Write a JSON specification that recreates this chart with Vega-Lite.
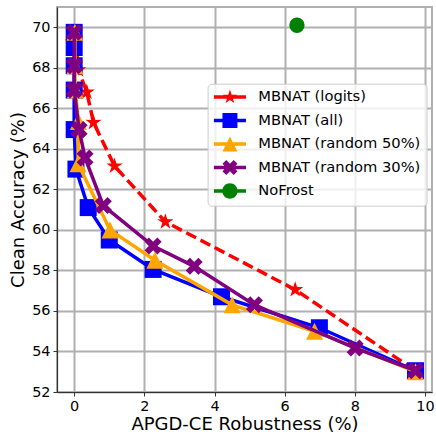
{
  "$schema": "https://vega.github.io/schema/vega-lite/v6.json",
  "width": 375,
  "height": 385,
  "autosize": {"type": "none"},
  "padding": {"left": 57, "top": 7, "right": 4, "bottom": 42},
  "background": "white",
  "config": {
    "font": "DejaVu Sans",
    "view": {"stroke": "#b0b0b0", "strokeWidth": 2},
    "axis": {
      "labelFont": "DejaVu Sans",
      "labelFontSize": 14.4,
      "labelColor": "#000000",
      "titleFont": "DejaVu Sans",
      "titleFontSize": 18,
      "titleFontWeight": "normal",
      "titleColor": "#000000",
      "tickColor": "#333333",
      "tickSize": 4,
      "tickWidth": 1,
      "labelPadding": 3,
      "domainColor": "#333333",
      "domainWidth": 1.2,
      "gridColor": "#b0b0b0",
      "gridWidth": 2,
      "gridOpacity": 1
    }
  },
  "data": {
    "values": [
      {"series": "MBNAT (logits)", "k": 0, "rob": 0.02, "acc": 69.75},
      {"series": "MBNAT (logits)", "k": 1, "rob": 0.12, "acc": 67.9},
      {"series": "MBNAT (logits)", "k": 2, "rob": 0.36, "acc": 66.8},
      {"series": "MBNAT (logits)", "k": 3, "rob": 0.55, "acc": 65.3},
      {"series": "MBNAT (logits)", "k": 4, "rob": 1.15, "acc": 63.15},
      {"series": "MBNAT (logits)", "k": 5, "rob": 2.6, "acc": 60.4},
      {"series": "MBNAT (logits)", "k": 6, "rob": 6.3, "acc": 57.05},
      {"series": "MBNAT (logits)", "k": 7, "rob": 9.73, "acc": 53.05},
      {"series": "MBNAT (all)", "k": 0, "rob": 0.0, "acc": 69.75},
      {"series": "MBNAT (all)", "k": 1, "rob": 0.0, "acc": 69.0},
      {"series": "MBNAT (all)", "k": 2, "rob": 0.0, "acc": 68.1},
      {"series": "MBNAT (all)", "k": 3, "rob": 0.0, "acc": 66.9},
      {"series": "MBNAT (all)", "k": 4, "rob": 0.0, "acc": 64.95},
      {"series": "MBNAT (all)", "k": 5, "rob": 0.05, "acc": 63.0},
      {"series": "MBNAT (all)", "k": 6, "rob": 0.4, "acc": 61.1},
      {"series": "MBNAT (all)", "k": 7, "rob": 1.0, "acc": 59.5},
      {"series": "MBNAT (all)", "k": 8, "rob": 2.25, "acc": 58.05},
      {"series": "MBNAT (all)", "k": 9, "rob": 4.2, "acc": 56.7},
      {"series": "MBNAT (all)", "k": 10, "rob": 6.99, "acc": 55.17},
      {"series": "MBNAT (all)", "k": 11, "rob": 9.73, "acc": 53.05},
      {"series": "MBNAT (random 50%)", "k": 0, "rob": 0.02, "acc": 69.75},
      {"series": "MBNAT (random 50%)", "k": 1, "rob": 0.02, "acc": 68.1},
      {"series": "MBNAT (random 50%)", "k": 2, "rob": 0.03, "acc": 66.9},
      {"series": "MBNAT (random 50%)", "k": 3, "rob": 0.12, "acc": 65.35},
      {"series": "MBNAT (random 50%)", "k": 4, "rob": 0.11, "acc": 63.27},
      {"series": "MBNAT (random 50%)", "k": 5, "rob": 1.02, "acc": 60.0},
      {"series": "MBNAT (random 50%)", "k": 6, "rob": 2.3, "acc": 58.5},
      {"series": "MBNAT (random 50%)", "k": 7, "rob": 4.5, "acc": 56.3},
      {"series": "MBNAT (random 50%)", "k": 8, "rob": 6.85, "acc": 55.0},
      {"series": "MBNAT (random 50%)", "k": 9, "rob": 9.73, "acc": 53.0},
      {"series": "MBNAT (random 30%)", "k": 0, "rob": 0.0, "acc": 69.75},
      {"series": "MBNAT (random 30%)", "k": 1, "rob": 0.0, "acc": 68.1},
      {"series": "MBNAT (random 30%)", "k": 2, "rob": 0.0, "acc": 66.9},
      {"series": "MBNAT (random 30%)", "k": 3, "rob": 0.14, "acc": 64.95},
      {"series": "MBNAT (random 30%)", "k": 4, "rob": 0.31, "acc": 63.55},
      {"series": "MBNAT (random 30%)", "k": 5, "rob": 0.83, "acc": 61.2},
      {"series": "MBNAT (random 30%)", "k": 6, "rob": 2.25, "acc": 59.2},
      {"series": "MBNAT (random 30%)", "k": 7, "rob": 3.42, "acc": 58.2},
      {"series": "MBNAT (random 30%)", "k": 8, "rob": 5.14, "acc": 56.3},
      {"series": "MBNAT (random 30%)", "k": 9, "rob": 8.01, "acc": 54.17},
      {"series": "MBNAT (random 30%)", "k": 10, "rob": 9.73, "acc": 53.05},
      {"series": "NoFrost", "k": 0, "rob": 6.35, "acc": 70.1}
    ]
  },
  "encoding": {
    "x": {
      "field": "rob", "type": "quantitative",
      "scale": {"domain": [-0.49, 10.2], "nice": false, "zero": false},
      "axis": {"values": [0, 2, 4, 6, 8, 10], "title": "APGD-CE Robustness (%)", "titlePadding": 3}
    },
    "y": {
      "field": "acc", "type": "quantitative",
      "scale": {"domain": [52, 71], "nice": false, "zero": false},
      "axis": {"values": [52, 54, 56, 58, 60, 62, 64, 66, 68, 70], "title": "Clean Accuracy (%)", "titlePadding": 4}
    },
    "order": {"field": "k", "type": "quantitative"}
  },
  "layer": [
    {"transform": [{"filter": "datum.series === 'MBNAT (logits)'"}],
     "mark": {"type": "line", "color": "#ff0000", "strokeWidth": 3.5, "strokeDash": [11, 5]}},
    {"transform": [{"filter": "datum.series === 'MBNAT (logits)'"}],
     "mark": {"type": "point", "filled": true, "opacity": 1, "color": "#ff0000", "size": 289, "strokeWidth": 0,
      "shape": "M0,-1L0.223,-0.307L0.951,-0.309L0.361,0.117L0.588,0.809L0,0.38L-0.588,0.809L-0.361,0.117L-0.951,-0.309L-0.223,-0.307Z"}},
    {"transform": [{"filter": "datum.series === 'MBNAT (all)'"}],
     "mark": {"type": "line", "color": "#0000ff", "strokeWidth": 3.5}},
    {"transform": [{"filter": "datum.series === 'MBNAT (all)'"}],
     "mark": {"type": "point", "filled": true, "opacity": 1, "color": "#0000ff", "size": 289, "strokeWidth": 0,
      "shape": "M-1,-1H1V1H-1Z"}},
    {"transform": [{"filter": "datum.series === 'MBNAT (random 50%)'"}],
     "mark": {"type": "line", "color": "#ffa500", "strokeWidth": 3.5}},
    {"transform": [{"filter": "datum.series === 'MBNAT (random 50%)'"}],
     "mark": {"type": "point", "filled": true, "opacity": 1, "color": "#ffa500", "size": 289, "strokeWidth": 0,
      "shape": "M0,-1L1,1L-1,1Z"}},
    {"transform": [{"filter": "datum.series === 'MBNAT (random 30%)'"}],
     "mark": {"type": "line", "color": "#800080", "strokeWidth": 3.5}},
    {"transform": [{"filter": "datum.series === 'MBNAT (random 30%)'"}],
     "mark": {"type": "point", "filled": true, "opacity": 1, "color": "#800080", "size": 289, "strokeWidth": 0,
      "shape": "M0,-0.5L0.5,-1L1,-0.5L0.5,0L1,0.5L0.5,1L0,0.5L-0.5,1L-1,0.5L-0.5,0L-1,-0.5L-0.5,-1Z"}},
    {"transform": [{"filter": "datum.series === 'NoFrost'"}],
     "mark": {"type": "point", "filled": true, "opacity": 1, "color": "#008000", "size": 235, "strokeWidth": 0, "shape": "circle"}},
    {
      "mark": {"type": "point", "filled": true, "opacity": 0, "size": 196},
      "encoding": {
        "color": {
          "field": "series", "type": "nominal",
          "scale": {
            "domain": ["MBNAT (logits)", "MBNAT (all)", "MBNAT (random 50%)", "MBNAT (random 30%)", "NoFrost"],
            "range": ["#ff0000", "#0000ff", "#ffa500", "#800080", "#008000"]
          },
          "legend": {
            "title": null, "orient": "none", "legendX": 150.6, "legendY": 76.7,
            "symbolSize": 196, "symbolOpacity": 1, "symbolStrokeWidth": 0, "symbolOffset": 9,
            "labelFont": "DejaVu Sans", "labelFontSize": 14.7, "labelColor": "#000000", "labelOffset": 21, "labelLimit": 300,
            "rowPadding": 7.5, "padding": 6,
            "fillColor": "rgba(255,255,255,0.8)", "strokeColor": "#cccccc", "cornerRadius": 4
          }
        },
        "shape": {
          "field": "series", "type": "nominal",
          "scale": {
            "domain": ["MBNAT (logits)", "MBNAT (all)", "MBNAT (random 50%)", "MBNAT (random 30%)", "NoFrost"],
            "range": [
              "M-2.29,-0.25H2.29V0.25H-2.29ZM0,-1.07L0.239,-0.328L1.018,-0.331L0.386,0.125L0.629,0.866L0,0.407L-0.629,0.866L-0.386,0.125L-1.018,-0.331L-0.239,-0.328Z",
              "M-2.29,-0.25H2.29V0.25H-2.29ZM-1.07,-1.07H1.07V1.07H-1.07Z",
              "M-2.29,-0.25H2.29V0.25H-2.29ZM0,-1.07L1.07,1.07L-1.07,1.07Z",
              "M-2.29,-0.25H2.29V0.25H-2.29ZM0,-0.535L0.535,-1.07L1.07,-0.535L0.535,0L1.07,0.535L0.535,1.07L0,0.535L-0.535,1.07L-1.07,0.535L-0.535,0L-1.07,-0.535L-0.535,-1.07Z",
              "M-2.29,-0.25H2.29V0.25H-2.29ZM-1.1,0A1.1,1.1 0 1,1 1.1,0A1.1,1.1 0 1,1 -1.1,0Z"
            ]
          },
          "legend": {
            "title": null, "orient": "none", "legendX": 150.6, "legendY": 76.7,
            "symbolSize": 196, "symbolOpacity": 1, "symbolStrokeWidth": 0, "symbolOffset": 9,
            "labelFont": "DejaVu Sans", "labelFontSize": 14.7, "labelColor": "#000000", "labelOffset": 21, "labelLimit": 300,
            "rowPadding": 7.5, "padding": 6,
            "fillColor": "rgba(255,255,255,0.8)", "strokeColor": "#cccccc", "cornerRadius": 4
          }
        }
      }
    }
  ]
}
